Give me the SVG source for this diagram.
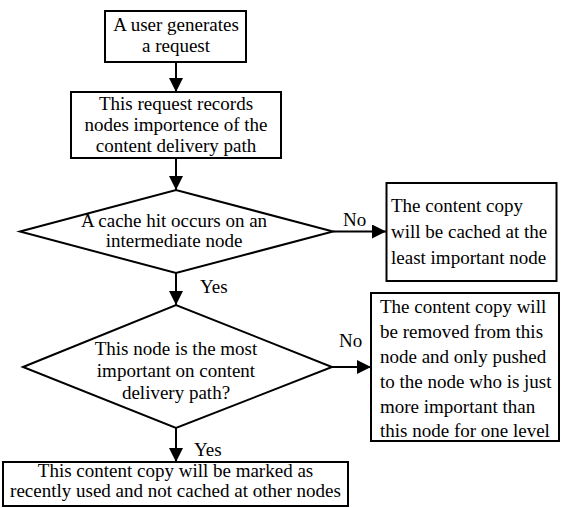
<svg xmlns="http://www.w3.org/2000/svg" width="562" height="508" viewBox="0 0 562 508" font-family="'Liberation Serif', 'Times New Roman', serif" font-size="19">
  <style>
    .box { fill: #fff; stroke: #000; stroke-width: 2; }
    .dia { fill: #fff; stroke: #000; stroke-width: 2; }
    .t { fill: #000; }
    .c { text-anchor: middle; }
    .edge { stroke: #000; stroke-width: 2; fill: none; marker-end: url(#arrow); }
  </style>
  <defs>
    <marker id="arrow" markerUnits="userSpaceOnUse" markerWidth="14" markerHeight="14" refX="14" refY="7" orient="auto">
      <path d="M0,0 L14,7 L0,14 z" fill="#000"/>
    </marker>
  </defs>
  <rect width="562" height="508" fill="#fff"/>

  <!-- flow arrows and their branch labels -->
  <g id="connectors">
    <line class="edge" x1="176" y1="62" x2="176" y2="92"/>
    <line class="edge" x1="176" y1="158" x2="176" y2="190"/>
    <line class="edge" x1="333" y1="231.5" x2="386" y2="231.5"/>
    <line class="edge" x1="176" y1="273" x2="176" y2="305"/>
    <line class="edge" x1="332" y1="367" x2="371" y2="367"/>
    <line class="edge" x1="176" y1="428" x2="176" y2="462"/>
    <text class="t" x="343" y="226">No</text>
    <text class="t" x="200" y="293">Yes</text>
    <text class="t" x="339" y="347">No</text>
    <text class="t" x="194" y="456">Yes</text>
  </g>

  <g id="start">
    <rect class="box" x="105" y="11" width="141" height="51"/>
    <text class="t c" x="176" y="31">A user generates</text>
    <text class="t c" x="176" y="52">a request</text>
  </g>

  <g id="record">
    <rect class="box" x="71" y="92" width="210" height="66"/>
    <text class="t c" x="176" y="110">This request records</text>
    <text class="t c" x="176" y="131">nodes importence of the</text>
    <text class="t c" x="176" y="152">content delivery path</text>
  </g>

  <g id="hit">
    <polygon class="dia" points="20,231.5 176,190 333,231.5 176,273"/>
    <text class="t c" x="174" y="227">A cache hit occurs on an</text>
    <text class="t c" x="174" y="247">intermediate node</text>
  </g>

  <g id="least">
    <rect class="box" x="386.5" y="183" width="170" height="98"/>
    <text class="t" x="391" y="212">The content copy</text>
    <text class="t" x="391" y="238">will be cached at the</text>
    <text class="t" x="391" y="264">least important node</text>
  </g>

  <g id="most">
    <polygon class="dia" points="23,367 176,305 332,367 176,428"/>
    <text class="t c" x="176" y="355">This node is the most</text>
    <text class="t c" x="176" y="377">important on content</text>
    <text class="t c" x="176" y="399">delivery path?</text>
  </g>

  <g id="push">
    <rect class="box" x="371" y="293" width="188" height="148"/>
    <text class="t" x="380" y="313">The content copy will</text>
    <text class="t" x="380" y="338">be removed from this</text>
    <text class="t" x="380" y="363">node and only pushed</text>
    <text class="t" x="380" y="388">to the node who is just</text>
    <text class="t" x="380" y="413">more important than</text>
    <text class="t" x="380" y="437">this node for one level</text>
  </g>

  <g id="mark">
    <rect class="box" x="3" y="462" width="345" height="44"/>
    <text class="t c" x="175.5" y="477">This content copy will be marked as</text>
    <text class="t c" x="175.5" y="497">recently used and not cached at other nodes</text>
  </g>
</svg>
